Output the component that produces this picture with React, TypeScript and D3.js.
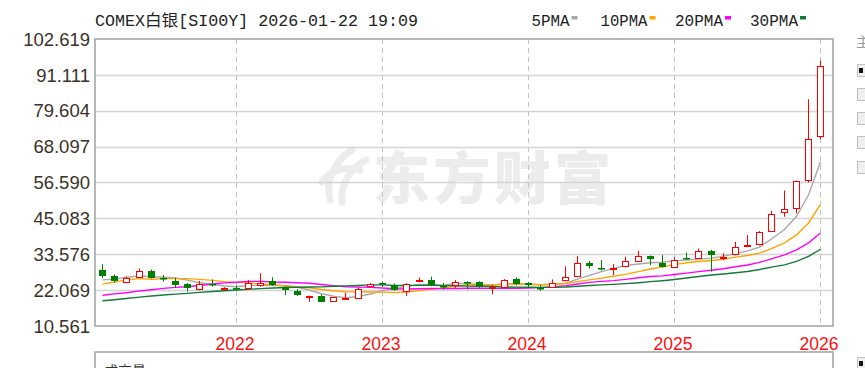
import React, { useEffect } from "react";
import * as d3 from "d3";

// monthly candles, Feb 2021 .. Jan 2026
const startMonth = new Date(2021, 1, 1);
const endMonth = new Date(2026, 1, 1);

const opens = [
  28.4, 26.6, 24.8, 26.4, 28.2, 26.0, 25.0, 23.9, 22.3, 24.0, 22.5,
  22.9, 22.6, 23.6, 25.1, 23.0, 21.8, 19.9, 20.3, 18.7, 19.2, 19.5, 23.5,
  24.2, 23.7, 21.7, 25.0, 25.4, 23.5, 23.7, 24.6, 24.6, 22.9, 23.2, 25.5,
  24.4, 22.9, 23.0, 25.2, 26.6, 30.9, 29.1, 28.7, 29.8, 31.5, 33.0, 30.7,
  29.6, 32.5, 32.3, 34.7, 32.5, 33.6, 36.3, 36.8, 41.1, 47.0, 48.5, 57.4,
  71.6,
];
const highs = [
  30.4, 27.1, 26.4, 29.0, 28.7, 26.9, 26.0, 24.3, 25.0, 25.5, 23.0,
  23.5, 25.3, 27.5, 26.2, 23.3, 22.4, 20.3, 20.7, 19.9, 21.2, 22.9, 24.3,
  24.8, 24.2, 24.3, 26.1, 26.4, 24.4, 25.3, 24.9, 24.9, 23.7, 25.6, 26.1,
  24.6, 23.7, 25.5, 29.7, 33.0, 31.4, 31.7, 30.4, 32.8, 34.7, 33.2, 33.3,
  32.6, 34.1, 35.4, 35.0, 33.9, 37.6, 39.7, 41.0, 47.5, 54.0, 57.2, 83.3,
  95.7,
];
const lows = [
  26.0, 24.5, 24.6, 26.2, 25.8, 24.8, 22.8, 21.6, 22.0, 23.2, 22.0,
  22.1, 22.4, 23.2, 23.4, 20.5, 20.2, 18.3, 18.2, 18.5, 18.9, 19.3, 23.0,
  23.2, 21.8, 20.2, 24.6, 23.3, 22.2, 22.8, 22.3, 22.8, 20.7, 22.8, 23.6,
  22.8, 21.8, 22.9, 24.9, 26.2, 29.0, 28.4, 26.9, 29.4, 31.2, 30.1, 29.3,
  29.3, 31.7, 32.0, 28.0, 31.7, 33.2, 36.0, 36.4, 40.7, 45.6, 46.7, 56.6,
  70.5,
];
const closes = [
  26.7, 25.0, 25.9, 28.3, 26.1, 25.6, 23.8, 22.6, 24.0, 23.8, 22.7,
  22.7, 24.5, 24.4, 23.7, 22.0, 20.4, 20.1, 18.4, 19.8, 19.4, 22.5, 24.1,
  24.0, 22.1, 24.0, 25.3, 23.6, 23.2, 24.8, 24.2, 23.2, 23.1, 25.3, 24.1,
  23.7, 22.7, 24.4, 26.4, 30.7, 29.8, 28.8, 29.1, 31.5, 33.0, 31.9, 29.6,
  31.7, 32.2, 34.7, 33.4, 32.8, 35.8, 36.6, 40.7, 46.5, 48.0, 57.0, 70.6,
  94.0,
];
// closes Sep 2018 .. Jan 2021, only used to warm up the moving averages
const priorCloses = [
  14.7, 14.7, 14.1, 15.5, 16.0, 15.6, 15.1, 15.0, 14.6, 15.3, 16.4, 18.4,
  17.0, 18.1, 17.0, 17.9, 18.0, 16.7, 14.1, 15.3, 18.6, 18.6, 24.4, 28.0,
  23.5, 23.9, 22.7, 26.5, 27.0,
];

const yTicks = [10.561, 22.069, 33.576, 45.083, 56.59, 68.097, 79.604, 91.111, 102.619];
const yTickLabels = ["10.561", "22.069", "33.576", "45.083", "56.590", "68.097", "79.604", "91.111", "102.619"];
const maPeriods = [5, 10, 20, 30];
const maLabels = ["5PMA", "10PMA", "20PMA", "30PMA"];
const maColors = ["#a8a8a8", "#ffa500", "#ff00ff", "#137a3a"];

const W = 865, H = 368;
const plot = { left: 95, right: 833, top: 39, bottom: 326 };
const UP = "#ff0000", DOWN = "#008000";

function App() {
  useEffect(() => {
    document.body.style.margin = "0";
  }, []);

  const months = d3.timeMonth.range(startMonth, endMonth);
  const idx = months.map((_, i) => i);

  const x = d3.scaleBand<number>().domain(idx).range([96, 826.2]).padding(0);
  const cx = (i: number) => Math.round((x(i) as number) + x.bandwidth() / 2);
  const y = d3.scaleLinear().domain([10.561, 102.619]).range([plot.bottom, plot.top]);

  const allCloses = priorCloses.concat(closes);
  const off = priorCloses.length;
  const maSeries = maPeriods.map((n) =>
    idx.map((i) => d3.mean(allCloses.slice(off + i - n + 1, off + i + 1)) as number)
  );
  const line = d3
    .line<number>()
    .x((_, i) => cx(i) + 0.5)
    .y((d) => y(d));

  const yearIdx = idx.filter((i) => months[i].getMonth() === 0);
  const fmtYear = d3.timeFormat("%Y");

  const legendX = [531.5, 600.5, 675, 750];
  const legendW = [38, 47, 48, 48];

  return (
    <svg width={W} height={H} style={{ position: "absolute", left: 0, top: 0, background: "#fff" }}>
      <rect x={0} y={0} width={W} height={H} fill="#fff" />

      {/* watermark */}
      <g fill="none" stroke="#ececec" strokeWidth={7} strokeLinecap="round">
        <path d="M330,200 C325,180 335,160 352,150" />
        <path d="M342,202 C340,185 350,168 366,160" />
        <path d="M322,182 C330,170 345,166 360,170" />
      </g>
      <text x={373} y={199} fontFamily="Noto Sans CJK SC" fontWeight={900} fontSize={57} fill="#ececec" textLength={238} lengthAdjust="spacing">
        东方财富
      </text>

      {/* grid */}
      {yTicks.slice(1, -1).map((t) => (
        <line key={t} x1={plot.left} x2={plot.right} y1={Math.round(y(t)) + 0.5} y2={Math.round(y(t)) + 0.5} stroke="#d4d4d4" strokeWidth={1.5} />
      ))}
      {yearIdx.map((i) => (
        <line key={i} x1={cx(i) + 0.5} x2={cx(i) + 0.5} y1={plot.top} y2={plot.bottom} stroke="#c4c4c4" strokeDasharray="5,4" />
      ))}

      {/* moving averages */}
      {maSeries.map((s, k) => (
        <path key={k} d={line(s) as string} fill="none" stroke={maColors[k]} strokeWidth={1.4} />
      ))}

      {/* candles */}
      {idx.map((i) => {
        const up = closes[i] >= opens[i];
        const c = up ? UP : DOWN;
        const top = Math.round(y(Math.max(opens[i], closes[i])));
        const bot = Math.round(y(Math.min(opens[i], closes[i])));
        const xc = cx(i);
        return (
          <g key={i}>
            <line x1={xc + 0.5} x2={xc + 0.5} y1={y(highs[i])} y2={y(lows[i])} stroke={c} strokeWidth={1} />
            {up ? (
              <rect x={xc - 3 + 0.5} y={top + 0.5} width={6} height={Math.max(bot - top, 1)} fill="#fff" stroke={c} strokeWidth={1} />
            ) : (
              <rect x={xc - 3} y={top} width={7} height={Math.max(bot - top, 1.5)} fill={c} />
            )}
          </g>
        );
      })}

      {/* frame */}
      <rect x={plot.left} y={plot.top} width={plot.right - plot.left} height={plot.bottom - plot.top} fill="none" stroke="#a0a0a0" strokeWidth={1.5} />

      {/* y labels */}
      {yTicks.map((t, k) => (
        <text key={t} x={90} y={y(t)} dy="0.36em" textAnchor="end" fontFamily="Liberation Sans" fontSize={18.5} fill="#3a3226">
          {yTickLabels[k]}
        </text>
      ))}

      {/* x labels */}
      {yearIdx.map((i) => (
        <text key={i} x={cx(i) - 1} y={350} textAnchor="middle" fontFamily="Liberation Sans" fontSize={17.5} fill="#ff1010">
          {fmtYear(months[i])}
        </text>
      ))}

      {/* title and legend */}
      <text x={95} y={26} fontFamily="Liberation Mono, Noto Sans CJK SC" fontSize={16} fill="#222" textLength={323} lengthAdjust="spacingAndGlyphs">
        COMEX白银[SI00Y] 2026-01-22 19:09
      </text>
      {maLabels.map((m, k) => (
        <g key={m}>
          <text x={legendX[k]} y={26} fontFamily="Liberation Mono" fontSize={16} fill="#222" textLength={legendW[k]} lengthAdjust="spacingAndGlyphs">
            {m}
          </text>
          <rect x={legendX[k] + legendW[k] + 2} y={16} width={6} height={3.5} fill={maColors[k]} />
        </g>
      ))}

      {/* lower panel, cut off */}
      <rect x={plot.left} y={352} width={plot.right - plot.left} height={40} fill="none" stroke="#a0a0a0" strokeWidth={1.5} />
      <text x={104} y={376} fontFamily="Noto Sans CJK SC" fontSize={14} fill="#333">
        成交量
      </text>

      {/* side controls, cut off */}
      <text x={856} y={47} fontFamily="Noto Sans CJK SC" fontSize={14} fill="#999">
        主
      </text>
      {[64, 88, 112, 136, 161, 357].map((yy, k) => (
        <g key={yy}>
          <rect x={857.5} y={yy + 0.5} width={12} height={12} fill="#f0f0f0" stroke="#c0c0c0" />
          {(k === 0 || k === 5) && <rect x={859} y={yy + 4} width={4} height={5} fill="#111" />}
        </g>
      ))}
    </svg>
  );
}

export default App;
